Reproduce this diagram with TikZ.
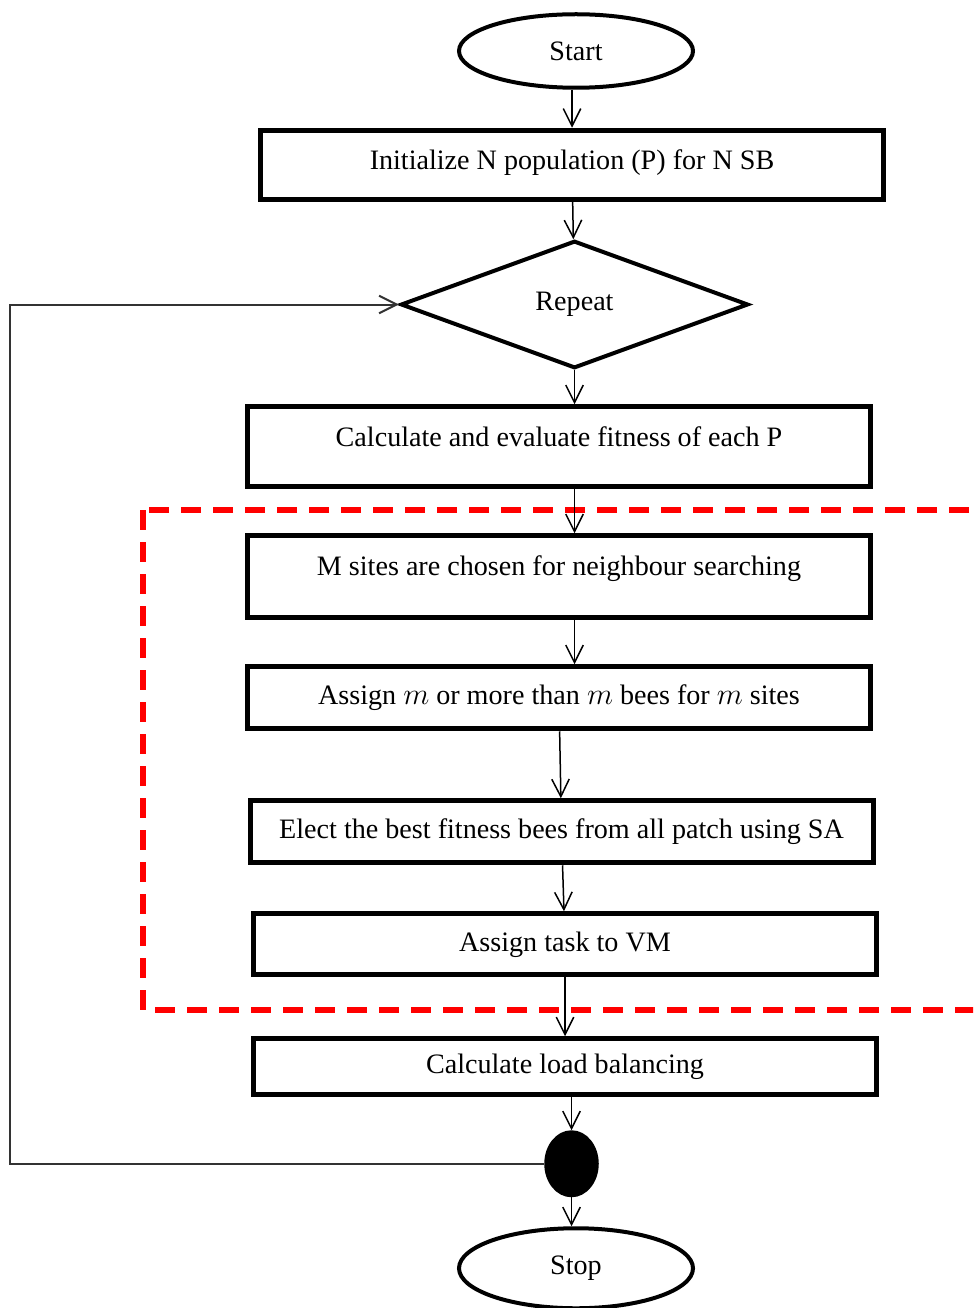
\documentclass[tikz,border=0pt]{standalone}
\usepackage{fontspec}
\setmainfont{Liberation Serif}
\usetikzlibrary{positioning, arrows.meta, shapes.geometric}

\begin{document}
\begin{tikzpicture}[
  box/.style={draw, line width=0.1cm, minimum width=12.46cm, minimum height=1.24cm,
              inner sep=0.1cm, text height=12pt, text depth=4pt, align=center},
  term/.style={draw, ellipse, line width=0.08cm, minimum width=4.68cm, minimum height=1.5cm},
  arr/.style={-{Straight Barb[length=3.5mm, width=3.5mm]}, line width=0.03cm},
  font=\fontsize{16}{19}\selectfont,
]
  \clip (0,0) rectangle (19.46,-26.16);
  \node[term, minimum height=1.47cm] (start) at (11.52,-1.02) {Start};
  \node[box, minimum height=1.38cm, text depth=0.22cm, below=0.76cm of start, xshift=-0.08cm]
                                 (init)    {Initialize N population (P) for N SB};
  \node[draw, diamond, aspect=2.8, line width=0.08cm, minimum width=6.95cm, minimum height=2.55cm,
        below=0.74cm of init, xshift=0.05cm]
                                 (repeat)  {Repeat};
  \node[box, minimum height=1.6cm, text depth=0.43cm, below=0.68cm of repeat, xshift=-0.31cm]
                                 (calc)    {Calculate and evaluate fitness of each P};
  \node[box, minimum height=1.64cm, text depth=0.49cm, below=0.88cm of calc]
                                 (msites)  {M sites are chosen for neighbour searching};
  \node[box, below=0.88cm of msites]
                                 (assignm) {Assign $m$ or more than $m$ bees for $m$ sites};
  \node[box, below=1.34cm of assignm, xshift=0.05cm]
                                 (elect)   {Elect the best fitness bees from all patch using SA};
  \node[box, minimum height=1.22cm, below=0.92cm of elect, xshift=0.07cm]
                                 (task)    {Assign task to VM};
  \node[box, minimum height=1.12cm, below=1.18cm of task]
                                 (load)    {Calculate load balancing};
  \node[draw, ellipse, fill=black, line width=0.04cm, minimum width=1.05cm, minimum height=1.3cm,
        below=0.66cm of load, xshift=0.13cm]
                                 (join)    {};
  \node[term, minimum height=1.6cm, below=0.58cm of join, xshift=0.09cm] (stop) {Stop};
  \coordinate (back) at (0.2,-15);

  % dashed frame round the bee steps
  \draw[red, line width=0.12cm, dash pattern=on 0.4cm off 0.24cm] (2.86,-10.2) rectangle (20,-20.2);

  \draw[arr] (start.south -| init) -- (init);
  \draw[arr] (init) -- (repeat);
  \draw[arr] (repeat) -- (repeat |- calc.north);
  \draw[arr] (calc.south -| repeat) -- (msites.north -| repeat);
  \draw[arr] (msites.south -| repeat) -- (assignm.north -| repeat);
  \draw[arr] (assignm) -- (elect);
  \draw[arr] (elect) -- (task);
  \draw[arr] (task) -- (load);
  \draw[arr] (load.south -| join) -- (join);
  \draw[arr] (join) -- (join |- stop.north);
  \draw[arr, black!80, line width=0.04cm] (join.west) -| (back) |- (repeat.west);
\end{tikzpicture}
\end{document}
